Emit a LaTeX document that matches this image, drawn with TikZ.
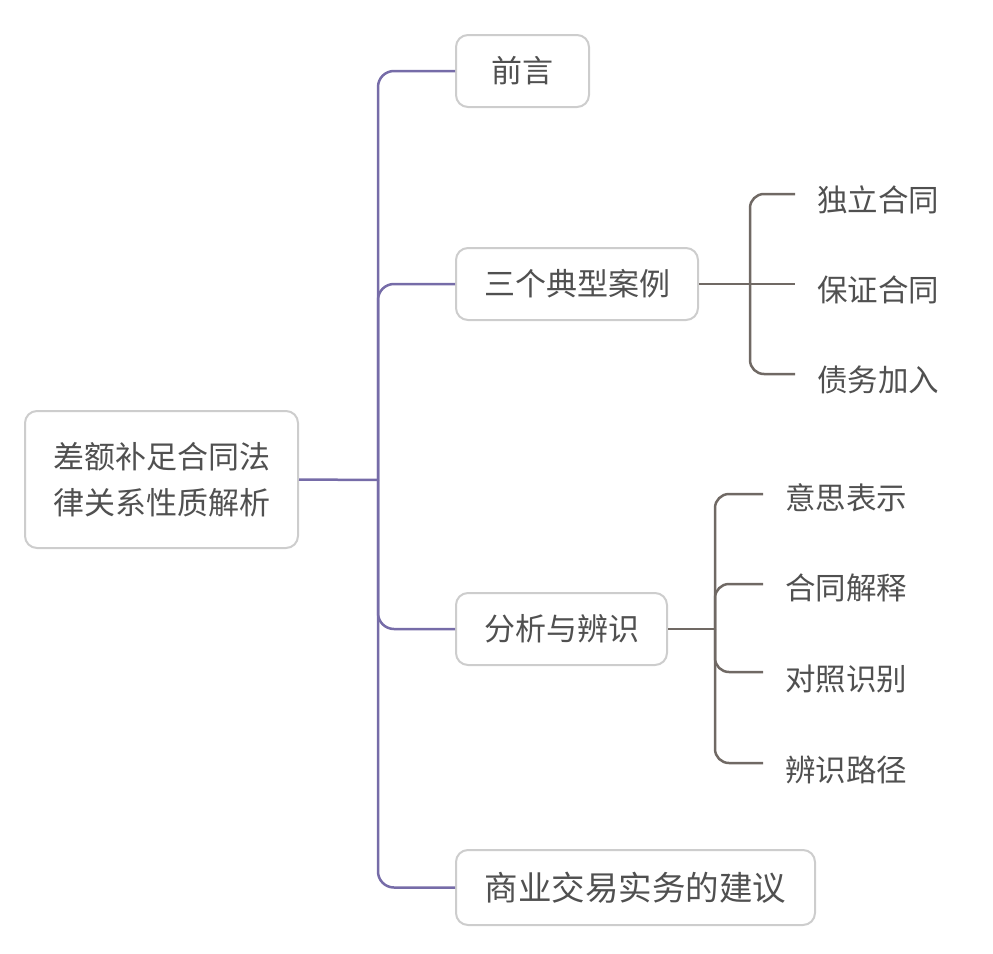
\documentclass[tikz,border=0pt]{standalone}
\usepackage{fontspec}
\setmainfont{Noto Sans CJK SC}
\definecolor{txt}{RGB}{80,80,80}
\definecolor{boxline}{RGB}{205,205,205}
\definecolor{purp}{RGB}{118,108,168}
\definecolor{brgray}{RGB}{112,105,100}
\tikzset{
  topic/.style={draw=boxline, line width=2pt, rounded corners=12pt, fill=white,
    text=txt, font=\fontsize{31pt}{46pt}\selectfont, inner sep=0pt, align=center},
  leaf/.style={text=txt, font=\fontsize{30.5pt}{46pt}\selectfont, inner sep=0pt, anchor=west},
  mainlink/.style={draw=purp, line width=2.5pt, rounded corners=16pt},
  sublink/.style={draw=brgray, line width=2.5pt, rounded corners=14pt}
}
\begin{document}
\begin{tikzpicture}[x=1pt,y=-1pt]
\useasboundingbox (0,0) rectangle (993,953);
% topics
\node[topic, minimum width=273pt, minimum height=137pt] (root) at (161.5,479.5) {差额补足合同法\\律关系性质解析};
\node[topic, minimum width=133pt, minimum height=72pt] (b1) at (522.5,71) {前言};
\node[topic, minimum width=242pt, minimum height=72pt] (b2) at (577,284) {三个典型案例};
\node[topic, minimum width=211pt, minimum height=72pt] (b3) at (561.5,629) {分析与辨识};
\node[topic, minimum width=359pt, minimum height=75pt, font=\fontsize{33.5pt}{46pt}\selectfont] (b4) at (635.5,887.5) {商业交易实务的建议};
% leaves
\node[leaf] (c1) at (817,200) {独立合同};
\node[leaf] (c2) at (817,290) {保证合同};
\node[leaf] (c3) at (817,380) {债务加入};
\node[leaf] (d1) at (785,498) {意思表示};
\node[leaf] (d2) at (785,588) {合同解释};
\node[leaf] (d3) at (785,679) {对照识别};
\node[leaf] (d4) at (785,770) {辨识路径};
% junctions
\coordinate (j0) at (378,480);
\coordinate (j1) at (750,284);
\coordinate (j2) at (715,629);
% main links
\draw[mainlink] (root.east) -- (j0);
\draw[mainlink] (j0) |- (b1.west);
\draw[mainlink] (j0) |- (b2.west);
\draw[mainlink] (j0) |- (b3.west);
\draw[mainlink] (j0) |- (b4.west);
% sub links
\draw[sublink] (b2.east) -- (j1);
\draw[sublink] (j1) |- ([xshift=-22pt,yshift=6pt]c1.west);
\draw[sublink] (j1) -- ([xshift=-22pt]j1 -| c2.west);
\draw[sublink] (j1) |- ([xshift=-22pt,yshift=6pt]c3.west);
\draw[sublink] (b3.east) -- (j2);
\draw[sublink] (j2) |- ([xshift=-22pt,yshift=4pt]d1.west);
\draw[sublink] (j2) |- ([xshift=-22pt,yshift=4pt]d2.west);
\draw[sublink] (j2) |- ([xshift=-22pt,yshift=7pt]d3.west);
\draw[sublink] (j2) |- ([xshift=-22pt,yshift=7pt]d4.west);
\end{tikzpicture}
\end{document}
